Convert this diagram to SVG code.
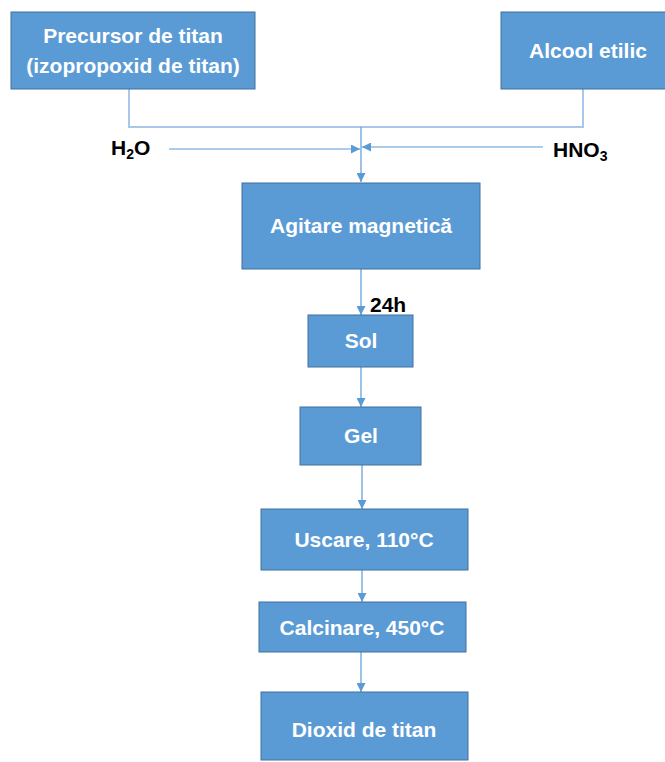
<svg xmlns="http://www.w3.org/2000/svg" width="665" height="762" viewBox="0 0 665 762">
<style>
.box{fill:#5b9bd5;stroke:#41719c;stroke-width:1}
.bt{font-family:"Liberation Sans",Arial,sans-serif;font-weight:bold;font-size:21px;fill:#ffffff;text-anchor:middle}
.lbl{font-family:"Liberation Sans",Arial,sans-serif;font-weight:bold;font-size:21px;fill:#000000}
.c{fill:none;stroke:#5b9bd5;stroke-width:1.2}
.cl{fill:none;stroke:#a7c8ea;stroke-width:2}
</style>
<defs>
<marker id="ah" markerUnits="userSpaceOnUse" markerWidth="9" markerHeight="9" refX="9" refY="4.5" orient="auto">
<path d="M0,0 L9,4.5 L0,9 z" fill="#5b9bd5"/>
</marker>
</defs>
<g id="connectors">
<polyline class="cl" points="129,89 129,127 583,127 583,89"/>
<line class="c" x1="361" y1="127" x2="361" y2="182" marker-end="url(#ah)"/>
<line class="c" x1="169" y1="149" x2="360" y2="149" marker-end="url(#ah)"/>
<line class="c" x1="543" y1="147" x2="362" y2="147" marker-end="url(#ah)"/>
<line class="c" x1="361" y1="269" x2="361" y2="315" marker-end="url(#ah)"/>
<line class="c" x1="361" y1="367" x2="361" y2="407" marker-end="url(#ah)"/>
<line class="c" x1="362" y1="465" x2="362" y2="509" marker-end="url(#ah)"/>
<line class="c" x1="362" y1="570" x2="362" y2="602" marker-end="url(#ah)"/>
<line class="c" x1="361" y1="652" x2="361" y2="692" marker-end="url(#ah)"/>
</g>
<g id="precursor">
<rect class="box" x="11" y="12" width="244" height="77"/>
<text class="bt" x="133" y="43">Precursor de titan</text>
<text class="bt" x="133" y="73">(izopropoxid de titan)</text>
</g>
<g id="alcool">
<rect class="box" x="501" y="12" width="170" height="77"/>
<text class="bt" x="588" y="58">Alcool etilic</text>
</g>
<g id="h2o">
<text class="lbl" x="111" y="155">H<tspan font-size="14" dy="4">2</tspan><tspan dy="-4">O</tspan></text>
</g>
<g id="hno3">
<text class="lbl" x="553" y="157">HNO<tspan font-size="14" dy="4">3</tspan></text>
</g>
<g id="agitare">
<rect class="box" x="242" y="183" width="238" height="86"/>
<text class="bt" x="361" y="233">Agitare magnetică</text>
</g>
<g id="label24h">
<text class="lbl" x="370" y="312">24h</text>
</g>
<g id="sol">
<rect class="box" x="308" y="315" width="105" height="52"/>
<text class="bt" x="361" y="348">Sol</text>
</g>
<g id="gel">
<rect class="box" x="300" y="407" width="121" height="58"/>
<text class="bt" x="361" y="443">Gel</text>
</g>
<g id="uscare">
<rect class="box" x="261" y="509" width="207" height="61"/>
<text class="bt" x="364" y="547">Uscare, 110°C</text>
</g>
<g id="calcinare">
<rect class="box" x="259" y="602" width="207" height="50"/>
<text class="bt" x="362" y="635">Calcinare, 450°C</text>
</g>
<g id="dioxid">
<rect class="box" x="261" y="692" width="207" height="68"/>
<text class="bt" x="364" y="737">Dioxid de titan</text>
</g>
</svg>
